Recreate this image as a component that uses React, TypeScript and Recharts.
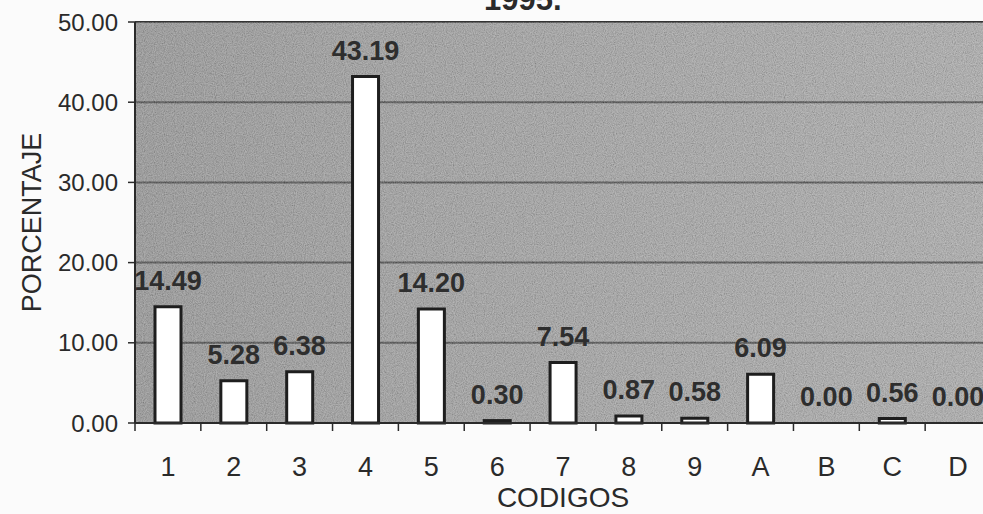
import { ComposedChart, Bar, Line, XAxis, YAxis, CartesianGrid, LabelList, ReferenceArea } from 'recharts';

const CODES = ['1', '2', '3', '4', '5', '6', '7', '8', '9', 'A', 'B', 'C', 'D'];
const PERCENTS = [14.49, 5.28, 6.38, 43.19, 14.2, 0.3, 7.54, 0.87, 0.58, 6.09, 0.0, 0.56, 0.0];
const Y_TICKS = [0, 10, 20, 30, 40, 50];

const data = CODES.map((code, i) => ({ code, value: PERCENTS[i] }));

const CHART_W = 1000;
const CHART_H = 514;
const MARGIN = { top: 22, right: 9, bottom: 0, left: 0 };
const Y_AXIS_W = 135;
const X_AXIS_H = 91;
const BAND = (CHART_W - Y_AXIS_W - MARGIN.right) / CODES.length;

const FONT = '"Liberation Sans", Arial, sans-serif';
const INK = '#2a2a2a';

function CodeTick({ x, y, payload }: any) {
  const left = x - BAND / 2;
  return (
    <g>
      <line x1={left} y1={y} x2={left} y2={y + 8} stroke={INK} strokeWidth={1.5} />
      <text x={x} y={y + 53} textAnchor="middle" fontSize={27} fill={INK} fontFamily={FONT}>
        {payload.value}
      </text>
    </g>
  );
}

function YTitle({ viewBox }: any) {
  const cx = viewBox.x + 32;
  const cy = viewBox.y + viewBox.height / 2;
  return (
    <text
      x={cx}
      y={cy}
      transform={`rotate(-90 ${cx} ${cy})`}
      textAnchor="middle"
      dominantBaseline="central"
      fontSize={27}
      fill={INK}
      fontFamily={FONT}
    >
      PORCENTAJE
    </text>
  );
}

function XTitle({ viewBox }: any) {
  const cx = viewBox.x + viewBox.width / 2;
  return (
    <text x={cx} y={viewBox.y + 84} textAnchor="middle" fontSize={28} fill={INK} fontFamily={FONT}>
      CODIGOS
    </text>
  );
}

export default function App() {
  return (
    <div
      style={{
        position: 'fixed',
        left: 0,
        top: 0,
        width: 983,
        height: 514,
        overflow: 'hidden',
        background: '#fbfbfb',
        fontFamily: FONT,
      }}
    >
      <div
        style={{
          position: 'absolute',
          left: 484,
          top: -18,
          fontSize: 31,
          fontWeight: 'bold',
          color: INK,
          lineHeight: 'normal',
        }}
      >
        1995.
      </div>
      <ComposedChart width={CHART_W} height={CHART_H} data={data} margin={MARGIN} barSize={26}>
        <defs>
          <linearGradient id="plotBg" x1="0" y1="0" x2="1" y2="0">
            <stop offset="0%" stopColor="#8d8d8d" />
            <stop offset="30%" stopColor="#979797" />
            <stop offset="100%" stopColor="#a6a6a6" />
          </linearGradient>
          <filter id="grain" x="0" y="0" width="100%" height="100%">
            <feTurbulence type="fractalNoise" baseFrequency="0.9" numOctaves="2" seed="3" result="noise" />
            <feColorMatrix
              in="noise"
              type="matrix"
              values="1 0 0 0 0  1 0 0 0 0  1 0 0 0 0  0 0 0 0 0.35"
              result="grey"
            />
            <feComposite in="grey" in2="SourceGraphic" operator="in" />
          </filter>
        </defs>
        <CartesianGrid vertical={false} stroke="#333" strokeWidth={2} fill="url(#plotBg)" fillOpacity={1} />
        <ReferenceArea y1={0} y2={50} fill="#000" fillOpacity={1} stroke="none" style={{ filter: 'url(#grain)' }} />
        <XAxis
          dataKey="code"
          height={X_AXIS_H}
          tickSize={0}
          tickMargin={0}
          tickLine={false}
          tick={<CodeTick />}
          interval={0}
          axisLine={{ stroke: INK, strokeWidth: 2 }}
          label={<XTitle />}
        />
        <YAxis
          width={Y_AXIS_W}
          domain={[0, 50]}
          ticks={Y_TICKS}
          interval={0}
          tickFormatter={(v: number) => v.toFixed(2)}
          tickSize={7}
          tickMargin={10}
          tick={{ fontSize: 24, fill: INK, fontFamily: FONT }}
          tickLine={{ stroke: INK, strokeWidth: 1.5 }}
          axisLine={{ stroke: INK, strokeWidth: 2 }}
          label={<YTitle />}
        />
        <Bar dataKey="value" fill="#ffffff" stroke="#1e1e1e" strokeWidth={3} isAnimationActive={false} />
        <Line
          dataKey="value"
          stroke="none"
          dot={false}
          activeDot={false}
          legendType="none"
          isAnimationActive={false}
        >
          <LabelList
            dataKey="value"
            position="top"
            offset={17}
            formatter={(v: any) => Number(v).toFixed(2)}
            style={{ fontSize: 27, fontWeight: 'bold', fill: '#2e2e2e', fontFamily: FONT }}
          />
        </Line>
      </ComposedChart>
    </div>
  );
}
